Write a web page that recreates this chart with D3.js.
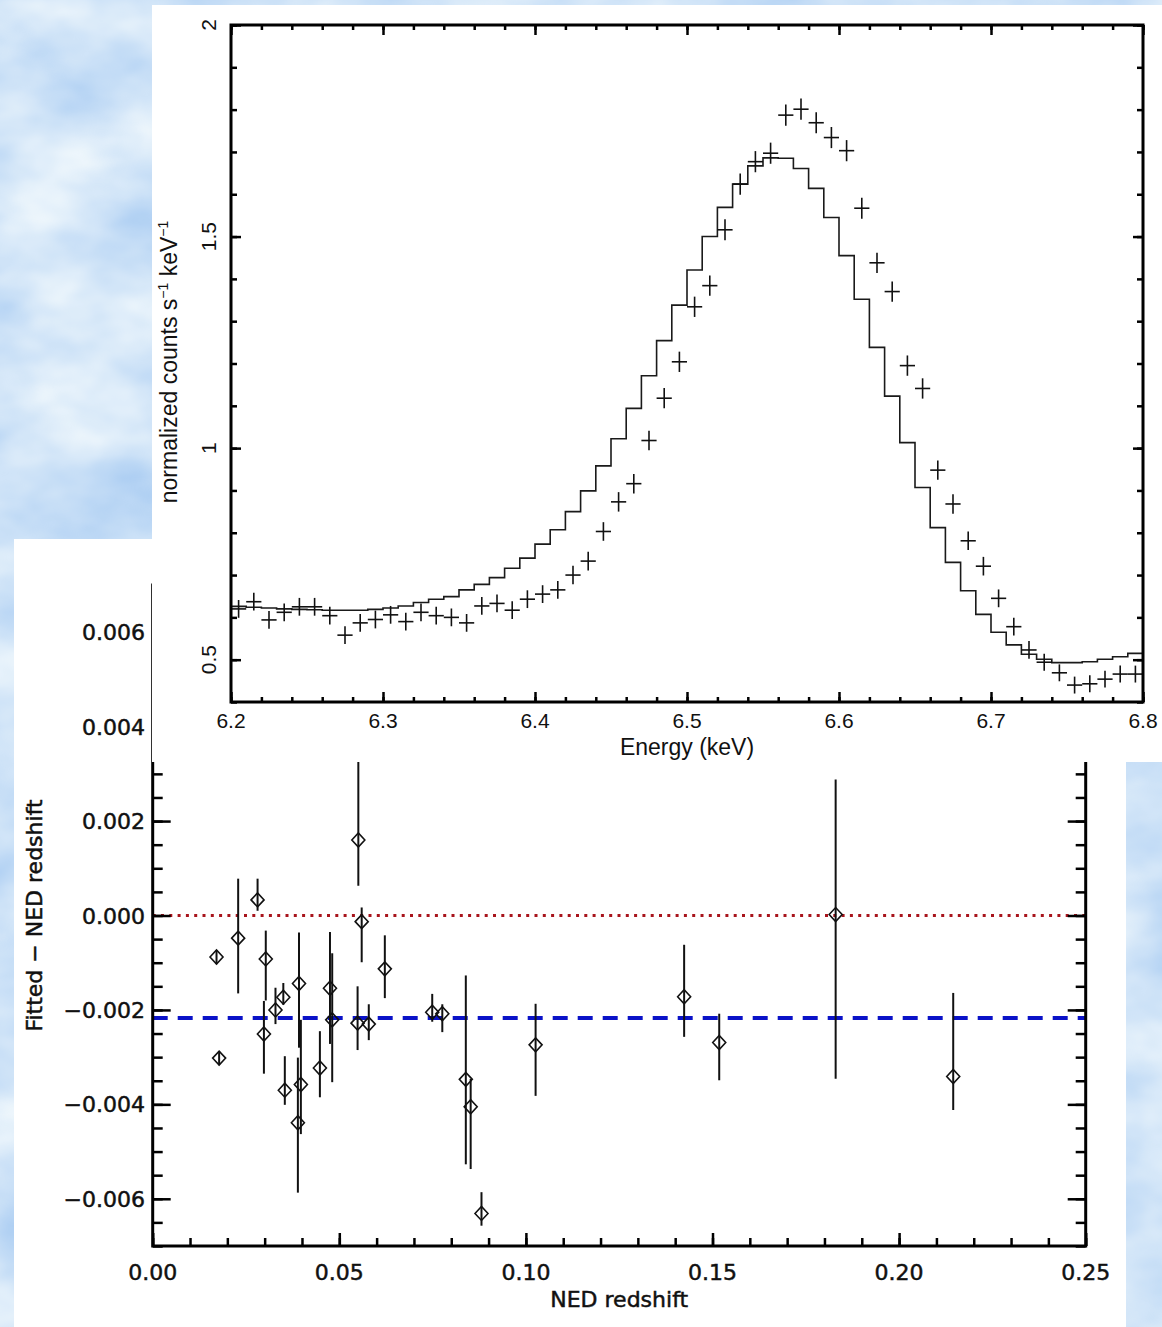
<!DOCTYPE html>
<html>
<head>
<meta charset="utf-8">
<script src="https://cdn.jsdelivr.net/npm/d3@7"></script>
<style>
body { margin: 0; background: #cfe2f8; }
svg { display: block; }
</style>
</head>
<body>
<svg id="chart" width="1162" height="1327"></svg>
<script>
// Top panel: Fe K line, data (crosses) vs folded model (step)
var binLow = 6.2, binWidth = 0.01;
var counts = [0.620, 0.637, 0.594, 0.612, 0.625, 0.625, 0.604, 0.558, 0.587, 0.595,
              0.606, 0.590, 0.612, 0.604, 0.600, 0.587, 0.627, 0.633, 0.617, 0.643,
              0.655, 0.665, 0.700, 0.733, 0.803, 0.873, 0.916, 1.018, 1.118, 1.204,
              1.334, 1.384, 1.516, 1.624, 1.677, 1.697, 1.787, 1.801, 1.769, 1.734,
              1.703, 1.567, 1.438, 1.370, 1.195, 1.141, 0.948, 0.868, 0.781, 0.721,
              0.645, 0.578, 0.523, 0.494, 0.469, 0.440, 0.443, 0.454, 0.466, 0.466];
var countErr = [0.021, 0.021, 0.021, 0.021, 0.021, 0.021, 0.021, 0.021, 0.021, 0.021,
                0.021, 0.021, 0.021, 0.021, 0.021, 0.021, 0.021, 0.021, 0.021, 0.021,
                0.021, 0.021, 0.022, 0.022, 0.022, 0.023, 0.023, 0.023, 0.024, 0.024,
                0.024, 0.024, 0.025, 0.025, 0.025, 0.025, 0.025, 0.025, 0.025, 0.025,
                0.025, 0.025, 0.024, 0.024, 0.024, 0.024, 0.023, 0.023, 0.022, 0.022,
                0.021, 0.021, 0.021, 0.020, 0.020, 0.020, 0.020, 0.020, 0.020, 0.020];
var model = [0.626, 0.624, 0.622, 0.620, 0.619, 0.618, 0.617, 0.617, 0.617, 0.619,
             0.622, 0.627, 0.635, 0.643, 0.649, 0.665, 0.678, 0.694, 0.716, 0.740,
             0.773, 0.807, 0.850, 0.899, 0.958, 1.022, 1.094, 1.171, 1.254, 1.338,
             1.421, 1.500, 1.569, 1.624, 1.667, 1.686, 1.685, 1.661, 1.614, 1.545,
             1.455, 1.352, 1.238, 1.123, 1.013, 0.907, 0.812, 0.730, 0.663, 0.607,
             0.565, 0.535, 0.513, 0.501, 0.493, 0.493, 0.495, 0.501, 0.507, 0.515];
var energyTicks = [6.2, 6.3, 6.4, 6.5, 6.6, 6.7, 6.8];
var countTicks = [0.5, 1, 1.5, 2];

// Bottom panel: fitted minus NED redshift
var nedZ = [0.0171, 0.0178, 0.0229, 0.0281, 0.0303, 0.0298, 0.0329, 0.0350, 0.0354, 0.0392,
            0.0397, 0.0389, 0.0448, 0.0475, 0.0481, 0.0551, 0.0560, 0.0549, 0.0579, 0.0622,
            0.0749, 0.0776, 0.0839, 0.0852, 0.0881, 0.1026, 0.1424, 0.1518, 0.1830, 0.2145];
var dz = [-0.00088, -0.00302, -0.00048, 0.00033, -0.00092, -0.00251, -0.00200, -0.00173, -0.00370, -0.00144,
          -0.00358, -0.00439, -0.00323, -0.00154, -0.00221, 0.00160, -0.00013, -0.00228, -0.00230, -0.00113,
          -0.00205, -0.00208, -0.00347, -0.00405, -0.00631, -0.00274, -0.00172, -0.00269, 0.00002, -0.00341];
var dzUp = [0.00015, 0.00015, 0.00126, 0.00045, 0.00060, 0.00070, 0.00047, 0.00030, 0.00072, 0.00108,
            0.00137, 0.00138, 0.00078, 0.00119, 0.00141, 0.00180, 0.00030, 0.00078, 0.00042, 0.00071,
            0.00039, 0.00020, 0.00220, 0.00059, 0.00045, 0.00087, 0.00110, 0.00061, 0.00286, 0.00177];
var dzDown = [0.00015, 0.00015, 0.00117, 0.00023, 0.00088, 0.00084, 0.00030, 0.00016, 0.00031, 0.00136,
              0.00105, 0.00148, 0.00062, 0.00118, 0.00132, 0.00097, 0.00086, 0.00057, 0.00034, 0.00062,
              0.00020, 0.00039, 0.00180, 0.00132, 0.00026, 0.00108, 0.00085, 0.00080, 0.00348, 0.00071];
var meanOffset = -0.00217;
var zTicks = [0, 0.05, 0.10, 0.15, 0.20, 0.25];
var dzTicks = [-0.006, -0.004, -0.002, 0, 0.002, 0.004, 0.006];

var svg = d3.select("#chart");
var W = +svg.attr("width"), H = +svg.attr("height");

// cloudy sky backdrop
var defs = svg.append("defs");
var sky = defs.append("filter").attr("id", "sky")
    .attr("x", 0).attr("y", 0).attr("width", "100%").attr("height", "100%")
    .attr("color-interpolation-filters", "sRGB");
sky.append("feTurbulence").attr("type", "fractalNoise")
    .attr("baseFrequency", "0.007 0.011").attr("numOctaves", 4).attr("seed", 7);
sky.append("feColorMatrix").attr("type", "matrix")
    .attr("values", "0.42 0 0 0 0.60  0.26 0 0 0 0.76  0.06 0 0 0 0.94  0 0 0 0 1");
svg.append("rect").attr("width", W).attr("height", H).attr("filter", "url(#sky)");

// helper: inward ticks on one side, no domain line
function tickSide(g, axis) {
    g.call(axis);
    g.select(".domain").remove();
    g.selectAll(".tick line").attr("stroke", "#000").attr("stroke-width", 2.5);
    g.selectAll(".tick text").remove();
}

// ================= lower panel =================
svg.append("rect").attr("x", 14).attr("y", 539).attr("width", 1112).attr("height", 788).attr("fill", "#fff");

var zx = d3.scaleLinear().domain([0, 0.25]).range([152.7, 1085.7]);
var zy = d3.scaleLinear().domain([-0.007, 0.007]).range([1246, 585]);
var low = svg.append("g");

low.append("line") // zero line
    .attr("x1", zx(0)).attr("x2", zx(0.25))
    .attr("y1", zy(0)).attr("y2", zy(0))
    .attr("stroke", "#a8141c").attr("stroke-width", 3).attr("stroke-dasharray", "3,5.3");

low.append("line") // mean offset
    .attr("x1", zx(0)).attr("x2", zx(0.25))
    .attr("y1", zy(meanOffset)).attr("y2", zy(meanOffset))
    .attr("stroke", "#0a12c8").attr("stroke-width", 4).attr("stroke-dasharray", "15,10");

var idx = d3.range(nedZ.length);
low.selectAll(".ebar").data(idx).join("line")
    .attr("class", "ebar")
    .attr("x1", function (i) { return zx(nedZ[i]); })
    .attr("x2", function (i) { return zx(nedZ[i]); })
    .attr("y1", function (i) { return zy(dz[i] + dzUp[i]); })
    .attr("y2", function (i) { return zy(dz[i] - dzDown[i]); })
    .attr("stroke", "#111").attr("stroke-width", 2);

low.selectAll(".diam").data(idx).join("path")
    .attr("class", "diam")
    .attr("d", function (i) {
        var cx = zx(nedZ[i]), cy = zy(dz[i]);
        return "M" + (cx - 6.5) + "," + cy + "L" + cx + "," + (cy - 7) +
               "L" + (cx + 6.5) + "," + cy + "L" + cx + "," + (cy + 7) + "Z";
    })
    .attr("fill", "none").attr("stroke", "#111").attr("stroke-width", 1.6);

var zb = zy.range()[0], zt = zy.range()[1], zl = zx.range()[0], zr = zx.range()[1];
tickSide(low.append("g").attr("transform", "translate(0," + zb + ")"), d3.axisBottom(zx).tickValues(zTicks).tickSize(-13));
tickSide(low.append("g").attr("transform", "translate(0," + zb + ")"), d3.axisBottom(zx).ticks(25).tickSize(-8));
tickSide(low.append("g").attr("transform", "translate(0," + zt + ")"), d3.axisTop(zx).tickValues(zTicks).tickSize(-13));
tickSide(low.append("g").attr("transform", "translate(0," + zt + ")"), d3.axisTop(zx).ticks(25).tickSize(-8));
tickSide(low.append("g").attr("transform", "translate(" + zl + ",0)"), d3.axisLeft(zy).tickValues(dzTicks).tickSize(-18));
tickSide(low.append("g").attr("transform", "translate(" + zl + ",0)"), d3.axisLeft(zy).ticks(28).tickSize(-10));
tickSide(low.append("g").attr("transform", "translate(" + zr + ",0)"), d3.axisRight(zy).tickValues(dzTicks).tickSize(-18));
tickSide(low.append("g").attr("transform", "translate(" + zr + ",0)"), d3.axisRight(zy).ticks(28).tickSize(-10));

low.append("rect") // frame
    .attr("x", zl).attr("y", zt).attr("width", zr - zl).attr("height", zb - zt)
    .attr("fill", "none").attr("stroke", "#000").attr("stroke-width", 3);

// lower panel text: heavier, slightly blurred look of the original
var lowFont = "'DejaVu Sans', sans-serif";
function lowText(sel) {
    return sel.style("font-family", lowFont).style("font-size", "22px")
        .attr("fill", "#111").attr("stroke", "#111").attr("stroke-width", 0.5);
}
lowText(low.selectAll(".ylab").data(dzTicks).join("text"))
    .attr("class", "ylab")
    .attr("x", 145).attr("y", function (d) { return zy(d) + 8; })
    .attr("text-anchor", "end")
    .text(d3.format(".3f"));

lowText(low.selectAll(".xlab").data(zTicks).join("text"))
    .attr("class", "xlab")
    .attr("x", function (d) { return zx(d); }).attr("y", 1280)
    .attr("text-anchor", "middle")
    .text(d3.format(".2f"));

lowText(low.append("text"))
    .attr("x", (zl + zr) / 2).attr("y", 1307)
    .attr("text-anchor", "middle")
    .text("NED redshift");

lowText(low.append("text"))
    .attr("transform", "translate(42," + zy(0) + ") rotate(-90)")
    .attr("text-anchor", "middle")
    .text("Fitted \u2212 NED redshift");

// ================= upper panel =================
svg.append("rect").attr("x", 152).attr("y", 5).attr("width", W - 152).attr("height", 757).attr("fill", "#fff");

var ex = d3.scaleLinear().domain([6.2, 6.8]).range([231, 1143]);
var cy = d3.scaleLinear().domain([0.4, 2]).range([702, 25]);
var upper = svg.append("g");

var steps = model.map(function (v, i) { return [binLow + i * binWidth, v]; });
steps.push([binLow + model.length * binWidth, model[model.length - 1]]);
upper.append("path")
    .attr("d", d3.line().x(function (d) { return ex(d[0]); }).y(function (d) { return cy(d[1]); }).curve(d3.curveStepAfter)(steps))
    .attr("fill", "none").attr("stroke", "#1a1a1a").attr("stroke-width", 1.6);

var cIdx = d3.range(counts.length);
function binMid(i) { return binLow + (i + 0.5) * binWidth; }
upper.selectAll(".hbar").data(cIdx).join("line")
    .attr("class", "hbar")
    .attr("x1", function (i) { return ex(binMid(i) - binWidth / 2); })
    .attr("x2", function (i) { return ex(binMid(i) + binWidth / 2); })
    .attr("y1", function (i) { return cy(counts[i]); })
    .attr("y2", function (i) { return cy(counts[i]); })
    .attr("stroke", "#111").attr("stroke-width", 1.6);
upper.selectAll(".vbar").data(cIdx).join("line")
    .attr("class", "vbar")
    .attr("x1", function (i) { return ex(binMid(i)); })
    .attr("x2", function (i) { return ex(binMid(i)); })
    .attr("y1", function (i) { return cy(counts[i] + countErr[i]); })
    .attr("y2", function (i) { return cy(counts[i] - countErr[i]); })
    .attr("stroke", "#111").attr("stroke-width", 1.6);

var eb = cy.range()[0], et = cy.range()[1], el = ex.range()[0], er = ex.range()[1];
tickSide(upper.append("g").attr("transform", "translate(0," + eb + ")"), d3.axisBottom(ex).tickValues(energyTicks).tickSize(-10));
tickSide(upper.append("g").attr("transform", "translate(0," + eb + ")"), d3.axisBottom(ex).ticks(30).tickSize(-5));
tickSide(upper.append("g").attr("transform", "translate(0," + et + ")"), d3.axisTop(ex).tickValues(energyTicks).tickSize(-10));
tickSide(upper.append("g").attr("transform", "translate(0," + et + ")"), d3.axisTop(ex).ticks(30).tickSize(-5));
tickSide(upper.append("g").attr("transform", "translate(" + el + ",0)"), d3.axisLeft(cy).tickValues(countTicks).tickSize(-10));
tickSide(upper.append("g").attr("transform", "translate(" + el + ",0)"), d3.axisLeft(cy).ticks(16).tickSize(-6));
tickSide(upper.append("g").attr("transform", "translate(" + er + ",0)"), d3.axisRight(cy).tickValues(countTicks).tickSize(-10));
tickSide(upper.append("g").attr("transform", "translate(" + er + ",0)"), d3.axisRight(cy).ticks(16).tickSize(-6));

upper.append("rect")
    .attr("x", el).attr("y", et).attr("width", er - el).attr("height", eb - et)
    .attr("fill", "none").attr("stroke", "#000").attr("stroke-width", 3);

var topFont = "'Liberation Sans', Arial, sans-serif";
upper.selectAll(".elab").data(energyTicks).join("text")
    .attr("class", "elab")
    .attr("x", function (d) { return ex(d); }).attr("y", 728)
    .attr("text-anchor", "middle")
    .style("font-family", topFont).style("font-size", "21px").attr("fill", "#111")
    .text(d3.format(".1f"));

upper.selectAll(".clab").data(countTicks).join("text")
    .attr("class", "clab")
    .attr("transform", function (d) { return "translate(216," + cy(d) + ") rotate(-90)"; })
    .attr("text-anchor", "middle")
    .style("font-family", topFont).style("font-size", "21px").attr("fill", "#111")
    .text(function (d) { return String(d); });

upper.append("text")
    .attr("x", (el + er) / 2).attr("y", 755)
    .attr("text-anchor", "middle")
    .style("font-family", topFont).style("font-size", "23px").attr("fill", "#111")
    .text("Energy (keV)");

var yt = upper.append("text")
    .attr("transform", "translate(177,362) rotate(-90)")
    .attr("text-anchor", "middle")
    .style("font-family", topFont).style("font-size", "23px").attr("fill", "#111");
yt.append("tspan").text("normalized counts s");
yt.append("tspan").attr("dy", -9).style("font-size", "14px").text("\u22121");
yt.append("tspan").attr("dy", 9).text(" keV");
yt.append("tspan").attr("dy", -9).style("font-size", "14px").text("\u22121");
</script>
</body>
</html>
